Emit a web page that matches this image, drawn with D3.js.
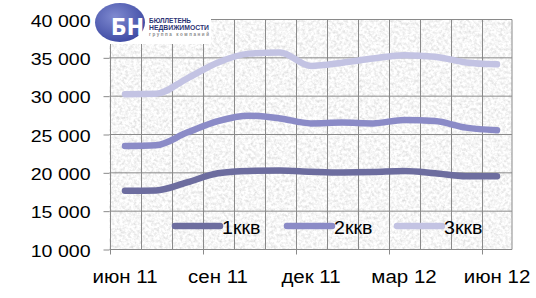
<!DOCTYPE html>
<html><head><meta charset="utf-8">
<script src="https://cdn.jsdelivr.net/npm/d3@7/dist/d3.min.js"></script>
<style>
html,body{margin:0;padding:0;background:#fff;}
svg{display:block;font-family:"Liberation Sans",Arial,sans-serif;}
</style></head>
<body>
<script>
const categories = ["июн 11","июл 11","авг 11","сен 11","окт 11","ноя 11","дек 11","янв 12","фев 12","мар 12","апр 12","май 12","июн 12"];
const seriesNames = ["1ккв","2ккв","3ккв"];
const s1 = [17650,17700,18750,19950,20250,20300,20150,20050,20100,20250,19950,19550,19550];
const s2 = [23500,23600,25250,26750,27450,27100,26450,26550,26450,26900,26750,25900,25550];
const s3 = [30250,30300,32300,34400,35550,35700,33950,34350,34900,35350,35150,34400,34150];
const yTicks = [10000,15000,20000,25000,30000,35000,40000];
const xTickLabels = ["июн 11","сен 11","дек 11","мар 12","июн 12"];
const colors = ["#6d6d9f","#8b8bc7","#c3c3e3"];

const W=536,H=298;
const L=109.5,R=512.5,T=19.5,B=249.5;
const svg=d3.select("body").append("svg").attr("width",W).attr("height",H);
const defs=svg.append("defs");
const f=defs.append("filter").attr("id","granite").attr("x",0).attr("y",0).attr("width","100%").attr("height","100%");
f.append("feTurbulence").attr("type","fractalNoise").attr("baseFrequency","0.35").attr("numOctaves",3).attr("seed",7).attr("result","n");
f.append("feColorMatrix").attr("in","n").attr("type","matrix")
 .attr("values","0.55 0 0 0 0.65  0.55 0 0 0 0.65  0.55 0 0 0 0.65  0 0 0 0 1");
const rg=defs.append("radialGradient").attr("id","logoG").attr("cx","40%").attr("cy","35%").attr("r","70%");
rg.append("stop").attr("offset","0%").attr("stop-color","#7f8ad0");
rg.append("stop").attr("offset","100%").attr("stop-color","#3c48a2");

const x=d3.scaleBand().domain(categories).range([L,R]).paddingInner(0).paddingOuter(0);
const y=d3.scaleLinear().domain([10000,40000]).range([B,T]);
const cx=c=>x(c)+x.bandwidth()/2;

// plot background
svg.append("rect").attr("x",L).attr("y",T).attr("width",R-L-0.5).attr("height",B-T).attr("filter","url(#granite)");

// grid
const g=svg.append("g").attr("stroke","#8a8a8a").attr("stroke-width",1);
categories.forEach(c=>{const xx=Math.round(x(c))+0.5;
  g.append("line").attr("x1",xx).attr("x2",xx).attr("y1",T).attr("y2",B);});
g.append("line").attr("x1",R-0.5).attr("x2",R-0.5).attr("y1",T).attr("y2",B);
yTicks.forEach(v=>{g.append("line").attr("x1",L).attr("x2",R-0.5).attr("y1",y(v)).attr("y2",y(v));});

const fmt=d3.formatLocale({decimal:",",thousands:" ",grouping:[3],currency:["",""]}).format(",d");
function stretch(sel,k){sel.each(function(){const w=this.getComputedTextLength();
  d3.select(this).attr("textLength",w*k).attr("lengthAdjust","spacingAndGlyphs");});}

// y axis
const ya=svg.append("g").attr("transform",`translate(${L},0)`)
 .call(d3.axisLeft(y).tickValues(yTicks).tickSize(6).tickPadding(13).tickFormat(fmt));
ya.select(".domain").remove();
ya.selectAll("line").attr("stroke","#8a8a8a");
ya.selectAll("text").attr("font-size",17).attr("fill","#000").attr("dy","0.4em")
  .attr("font-family","'Liberation Sans',Arial,sans-serif");
stretch(ya.selectAll("text"),1.15);

// x axis
const xa=svg.append("g").attr("transform",`translate(0,${B})`)
 .call(d3.axisBottom(x).tickValues(xTickLabels).tickSize(0).tickPadding(21));
xa.select(".domain").remove();
xa.selectAll("text").attr("font-size",17.5).attr("fill","#000").attr("font-family","'Liberation Sans',Arial,sans-serif");
stretch(xa.selectAll("text"),1.17);
xTickLabels.forEach(c=>{const xx=Math.round(x(c))+0.5;
  svg.append("line").attr("x1",xx).attr("x2",xx).attr("y1",B).attr("y2",B+5).attr("stroke","#8a8a8a");});

// lines
const line=d3.line().x((d,i)=>cx(categories[i])).y(d=>y(d)).curve(d3.curveMonotoneX);
[s1,s2,s3].forEach((s,i)=>{
  svg.append("path").datum(s).attr("d",line).attr("fill","none").attr("stroke",colors[i])
   .attr("stroke-width",6.5).attr("stroke-linecap","round").attr("stroke-linejoin","round");
});

// legend
const lx=[175,287,397];
seriesNames.forEach((n,i)=>{
  svg.append("line").attr("x1",lx[i]).attr("x2",lx[i]+45).attr("y1",226).attr("y2",226)
    .attr("stroke",colors[i]).attr("stroke-width",6.5).attr("stroke-linecap","round");
  const t=svg.append("text").attr("x",lx[i]+47).attr("y",234).attr("font-size",17.5).text(n);
  stretch(t,1.12);
});

// logo
const lg=svg.append("g");
lg.append("rect").attr("x",93).attr("y",0).attr("width",118).attr("height",44).attr("fill","#fff");
lg.append("ellipse").attr("cx",120).attr("cy",22.5).attr("rx",25).attr("ry",19.5).attr("fill","url(#logoG)");
const bn=lg.append("text").attr("x",111).attr("y",35).attr("font-size",23).attr("font-weight","bold")
  .attr("fill","#fff").attr("font-family","'DejaVu Sans',sans-serif").text("БН");
bn.attr("textLength",33).attr("lengthAdjust","spacingAndGlyphs");
lg.append("text").attr("x",149).attr("y",23).attr("font-size",6.5).attr("font-weight","bold").attr("fill","#2d3475")
  .attr("textLength",42).attr("lengthAdjust","spacingAndGlyphs").text("БЮЛЛЕТЕНЬ");
lg.append("text").attr("x",149).attr("y",29.5).attr("font-size",6.5).attr("font-weight","bold").attr("fill","#2d3475")
  .attr("textLength",60).attr("lengthAdjust","spacingAndGlyphs").text("НЕДВИЖИМОСТИ");
lg.append("text").attr("x",149).attr("y",36).attr("font-size",4.5).attr("font-weight","bold").attr("fill","#8a8a8a")
  .attr("textLength",60).attr("lengthAdjust","spacing").text("группа компаний");
</script>
</body></html>
